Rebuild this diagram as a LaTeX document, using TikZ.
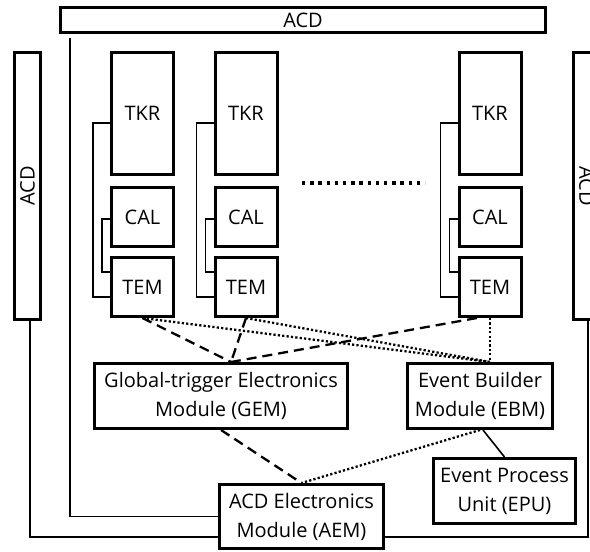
\documentclass[tikz,border=0pt]{standalone}
\usepackage{fontspec}
\setmainfont{Open Sans}
\usepackage{graphicx}
\usetikzlibrary{calc}
\begin{document}
\begin{tikzpicture}[x=1pt,y=-1pt,
  box/.style={draw, line width=3pt, inner sep=0pt, align=center, font=\fontsize{20}{29}\selectfont},
  wire/.style={line width=1.6pt},
  dashline/.style={line width=2.3pt, dash pattern=on 10pt off 6pt},
  dotline/.style={line width=2.3pt, dash pattern=on 2.2pt off 2.2pt},
  bigdots/.style={line width=3.4pt, dash pattern=on 3.4pt off 4.8pt},
]
\useasboundingbox (0,0) rectangle (590,552);
% ACD panels
\node[box, minimum width=485, minimum height=25] (acdtop) at (303,20) {ACD};
\node[box, minimum width=26, minimum height=267] (acdl) at (27.5,186) {\rotatebox{90}{ACD}};
\node[box, minimum width=26, minimum height=267] (acdr) at (586.5,186) {\rotatebox{-90}{ACD}};
% towers
\foreach \i/\x in {1/142.5, 2/246, 3/490}{
  \node[box, minimum width=62, minimum height=122] (tkr\i) at (\x,113.5) {TKR};
  \node[box, minimum width=62, minimum height=59] (cal\i) at (\x,217) {CAL};
  \node[box, minimum width=62, minimum height=59] (tem\i) at (\x,287) {TEM};
  \draw[wire] ($(tkr\i.west)+(0,9.5)$) -- ++(-17,0) |- ($(tem\i.west)+(0,10)$);
  \draw[wire] ($(cal\i.west)+(0,2)$) -- ++(-8,0) |- ($(tem\i.west)+(0,-15)$);
}
\coordinate (d1) at (302,183);
\coordinate (d2) at (425,183);
\draw[bigdots] (d1) -- (d2);
% modules
\node[box, minimum width=253, minimum height=65] (gem) at (221,396) {Global-trigger Electronics\\Module (GEM)};
\node[box, minimum width=145, minimum height=65] (ebm) at (480,396) {Event Builder\\Module (EBM)};
\node[box, minimum width=142, minimum height=65] (epu) at (504.5,491) {Event Process\\Unit (EPU)};
\node[box, minimum width=164, minimum height=64] (aem) at (301.5,516.5) {ACD Electronics\\Module (AEM)};
% connectors
\coordinate (gemin) at ($(gem.north)+(10,0)$);
\coordinate (ebmin) at (tem3.south |- ebm.north);
\draw[dashline] (tem1.south) -- (gemin);
\draw[dashline] (tem2.south) -- (gemin);
\draw[dashline] ($(tem3.south)+(-13,0)$) -- (gemin);
\draw[dotline] (tem1.south) -- (ebmin);
\draw[dotline] (tem2.south) -- (ebmin);
\draw[dotline] (tem3.south) -- (ebmin);
\draw[dashline] (gem.south) -- (aem.north);
\draw[dotline] (ebm.south) -- (aem.north);
\draw[wire] ($(ebm.south)+(3,0)$) -- (epu.north);
% ACD cabling
\draw[wire] ($(acdtop.south west)+(11,4)$) |- (aem.west);
\draw[wire] ($(acdl.south)+(2.5,0)$) |- ($(aem.west)+(0,20.5)$);
\draw[wire] ($(acdr.south)+(1.5,0)$) |- ($(aem.east)+(0,20.5)$);
\end{tikzpicture}
\end{document}
